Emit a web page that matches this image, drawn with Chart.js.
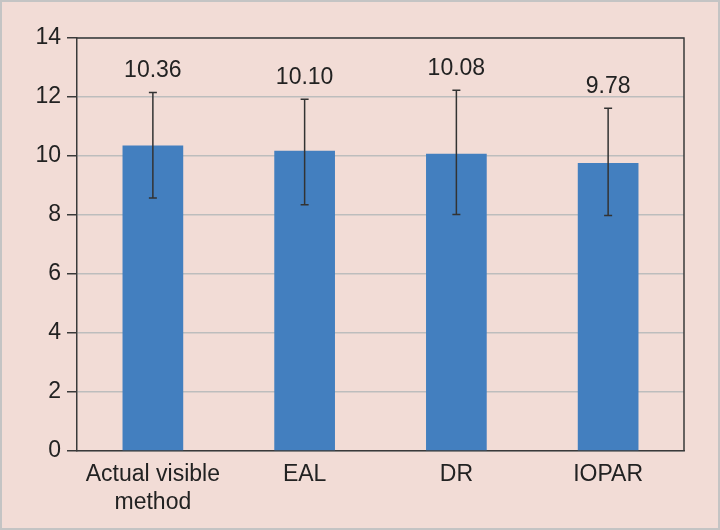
<!DOCTYPE html>
<html>
<head>
<meta charset="utf-8">
<script src="https://cdn.jsdelivr.net/npm/chart.js@4"></script>
<style>
html,body{margin:0;padding:0;}
body{width:720px;height:530px;overflow:hidden;}
#wrap{position:absolute;left:0;top:0;width:716px;height:526px;background:#f2dcd6;border:2px solid #c4c4c4;}
canvas{position:absolute;left:-2px;top:-2px;}
</style>
</head>
<body>
<div id="wrap"><canvas id="c" width="720" height="530"></canvas></div>
<script>
const categories = [['Actual visible','method'], 'EAL', 'DR', 'IOPAR'];
const means = [10.36, 10.18, 10.08, 9.76];
const meanLabels = ['10.36', '10.10', '10.08', '9.78'];
const errUpper = [12.15, 11.92, 12.23, 11.62];
const errLower = [8.58, 8.35, 8.02, 7.98];
const yTicks = [0, 2, 4, 6, 8, 10, 12, 14];

const FONT = 'Liberation Sans, Arial, Helvetica, sans-serif';

const extras = {
  id: 'extras',
  afterDatasetsDraw(chart) {
    const ctx = chart.ctx;
    const y = chart.scales.y;
    const meta = chart.getDatasetMeta(0);
    const a = chart.chartArea;
    ctx.save();
    ctx.strokeStyle = '#3a3a3a';
    ctx.lineWidth = 1.5;
    ctx.beginPath();
    ctx.moveTo(a.left, a.top);
    ctx.lineTo(a.right, a.top);
    ctx.lineTo(a.right, a.bottom);
    ctx.stroke();
    ctx.strokeStyle = '#333';
    ctx.lineWidth = 1.5;
    meta.data.forEach((bar, i) => {
      const x = bar.x;
      const yt = y.getPixelForValue(errUpper[i]);
      const yb = y.getPixelForValue(errLower[i]);
      ctx.beginPath();
      ctx.moveTo(x, yt); ctx.lineTo(x, yb);
      ctx.moveTo(x - 4, yt); ctx.lineTo(x + 4, yt);
      ctx.moveTo(x - 4, yb); ctx.lineTo(x + 4, yb);
      ctx.stroke();
      ctx.fillStyle = '#222';
      ctx.font = '23px ' + FONT;
      ctx.textAlign = 'center';
      ctx.textBaseline = 'middle';
      ctx.fillText(meanLabels[i], x, yt - 22);
    });
    ctx.restore();
  }
};

new Chart(document.getElementById('c'), {
  type: 'bar',
  data: {
    labels: categories,
    datasets: [{
      data: means,
      backgroundColor: '#437fbf',
      borderWidth: 0,
      categoryPercentage: 1.0,
      barPercentage: 0.4
    }]
  },
  options: {
    responsive: false,
    animation: false,
    devicePixelRatio: 1,
    layout: { padding: { left: 2, right: 36, top: 38, bottom: 9 } },
    plugins: { legend: { display: false }, tooltip: { enabled: false } },
    scales: {
      x: {
        grid: { display: false, drawTicks: false },
        border: { color: '#3a3a3a', width: 1.5 },
        ticks: { color: '#222', font: { family: FONT, size: 23 }, padding: 10, maxRotation: 0, autoSkip: false },
        afterFit(s) { s.height = 70; }
      },
      y: {
        min: 0, max: 14,
        afterBuildTicks(s) { s.ticks = yTicks.map(v => ({ value: v })); },
        grid: { color: '#bdbdbd', lineWidth: 1.5, tickLength: 10, tickColor: '#3a3a3a', tickWidth: 1.5 },
        border: { color: '#3a3a3a', width: 1.5 },
        ticks: { color: '#222', font: { family: FONT, size: 23 }, padding: 6 },
        afterFit(s) { s.width = 75; }
      }
    }
  },
  plugins: [extras]
});
</script>
</body>
</html>
